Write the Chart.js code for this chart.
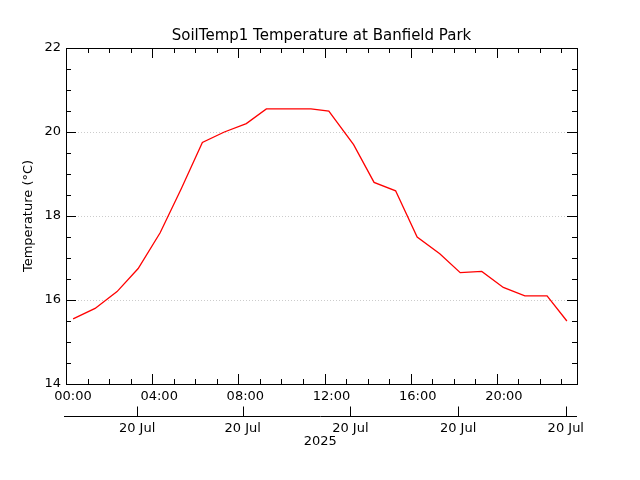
<!DOCTYPE html>
<html><head><meta charset="utf-8">
<script src="https://cdn.jsdelivr.net/npm/chart.js@4"></script>
<style>body{margin:0;background:#fff}#w{width:640px;height:480px}</style></head>
<body><div id="w"><canvas id="c"></canvas></div>
<script>
const hours = [0.33,1.35,2.37,3.35,4.37,5.35,6.33,7.35,8.37,9.3,10.35,11.37,12.2,13.35,14.3,15.3,16.3,17.35,18.3,19.3,20.3,21.3,22.33,23.25];
const temps = [15.55,15.8,16.2,16.75,17.6,18.65,19.75,20.0,20.2,20.55,20.55,20.55,20.5,19.7,18.8,18.6,17.5,17.1,16.65,16.68,16.3,16.1,16.1,15.5];
const hourTicks = [0,4,8,12,16,20];
const hourLabels = ['00:00','04:00','08:00','12:00','16:00','20:00'];
const dateTicks = [3.3,8.2,13.2,18.2,23.2];
const dateLabels = ['20 Jul','20 Jul','20 Jul','20 Jul','20 Jul'];
const yTicks = [14,16,18,20,22];
const FONT = '13px "DejaVu Sans"';
const deco = {
  id:'deco',
  beforeDatasetsDraw(ch){
    const {ctx,chartArea:a,scales:{x,y}}=ch;
    ctx.save();
    ctx.strokeStyle='#ccc';ctx.setLineDash([1,2]);ctx.lineWidth=1;
    [16,18,20].forEach(v=>{const py=Math.round(y.getPixelForValue(v))+0.5;ctx.beginPath();ctx.moveTo(a.left,py);ctx.lineTo(a.right,py);ctx.stroke();});
    ctx.restore();
  },
  afterDatasetsDraw(ch){
    const {ctx,chartArea:a,scales:{x,y}}=ch;
    ctx.save();ctx.strokeStyle='#000';ctx.lineWidth=1;ctx.setLineDash([]);
    ctx.strokeRect(a.left+0.5,a.top+0.5,a.right-a.left,a.bottom-a.top);
    ctx.beginPath();
    for(let h=0;h<=23;h++){const px=Math.round(x.getPixelForValue(h))+0.5;const L=h%4===0?10:5;
      ctx.moveTo(px,a.bottom);ctx.lineTo(px,a.bottom-L);ctx.moveTo(px,a.top);ctx.lineTo(px,a.top+L);}
    for(let v=14;v<=22;v+=0.5){const py=Math.round(y.getPixelForValue(v))+0.5;const L=v%2===0?10:5;
      ctx.moveTo(a.left,py);ctx.lineTo(a.left+L,py);ctx.moveTo(a.right,py);ctx.lineTo(a.right-L,py);}
    const ly=416.5;
    ctx.moveTo(a.left-2,ly);ctx.lineTo(a.right,ly);
    dateTicks.forEach(v=>{const px=Math.round(x.getPixelForValue(v))+0.5;ctx.moveTo(px,ly);ctx.lineTo(px,ly-10);});
    ctx.stroke();
    ctx.fillStyle='#000';ctx.font=FONT;
    ctx.textAlign='right';ctx.textBaseline='middle';
    yTicks.forEach(v=>ctx.fillText(String(v),a.left-5,y.getPixelForValue(v)));
    ctx.textAlign='center';ctx.textBaseline='top';
    hourTicks.forEach((v,i)=>ctx.fillText(hourLabels[i],x.getPixelForValue(v)+7,390));
    dateTicks.forEach((v,i)=>ctx.fillText(dateLabels[i],x.getPixelForValue(v),422));
    ctx.fillText('2025',x.getPixelForValue(11.8),435);
    ctx.font='15px "DejaVu Sans"';ctx.textBaseline='middle';
    ctx.fillText('SoilTemp1 Temperature at Banfield Park',(a.left+a.right)/2,36);
    ctx.font=FONT;ctx.translate(29,(a.top+a.bottom)/2);ctx.rotate(-Math.PI/2);
    ctx.fillText('Temperature (°C)',0,0);
    ctx.restore();
  }
};
new Chart(document.getElementById('c'),{
  type:'line',
  data:{datasets:[{data:hours.map((h,i)=>({x:h,y:temps[i]})),borderColor:'#ff0000',borderWidth:1.3,pointRadius:0,tension:0}]},
  options:{responsive:true,maintainAspectRatio:false,animation:false,
    layout:{padding:{left:66,right:63,top:48,bottom:96}},
    plugins:{legend:{display:false},tooltip:{enabled:false}},
    scales:{x:{type:'linear',min:0,max:23.72,display:false},y:{min:14,max:22,display:false}}},
  plugins:[deco]
});
</script></body></html>
